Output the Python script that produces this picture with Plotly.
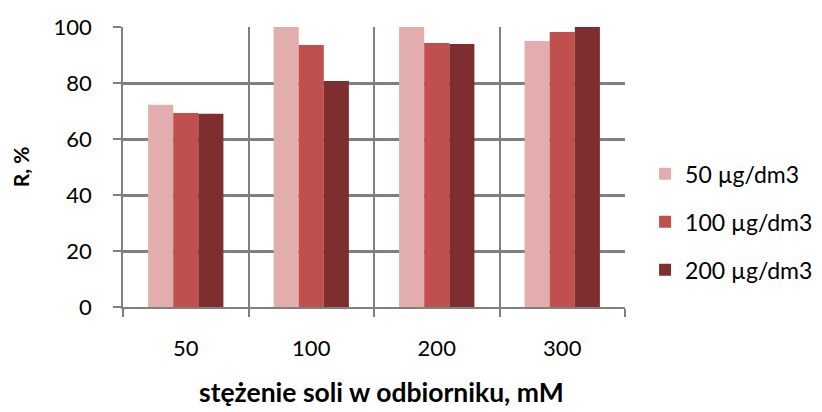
import plotly.graph_objects as go

categories = ["50", "100", "200", "300"]
series_names = ["50 µg/dm3", "100 µg/dm3", "200 µg/dm3"]
values_50 = [72.2, 100.0, 100.0, 95.0]
values_100 = [69.3, 93.6, 94.3, 98.2]
values_200 = [69.0, 80.7, 93.9, 100.0]
colors = ["#E2ADAC", "#C0504D", "#7F2E2F"]
y_ticks = [0, 20, 40, 60, 80, 100]

FONT = "Lato, 'Liberation Sans', Arial, sans-serif"
GRID = "#808080"

fig = go.Figure()
for i, (name, vals) in enumerate(zip(series_names, [values_50, values_100, values_200])):
    fig.add_trace(go.Bar(x=categories, y=vals, name=name, marker_color=colors[i],
                         marker_line_width=0, legendgroup=f"g{i}"))

fig.update_layout(
    width=814, height=404,
    margin=dict(l=115, r=197, t=19, b=105, autoexpand=False),
    paper_bgcolor="white", plot_bgcolor="white",
    barmode="group", bargap=0.40, bargroupgap=0,
    font=dict(family=FONT, size=22, color="#000000"),
    legend=dict(x=1.04, xanchor="left", y=0.304, yanchor="middle", xref="paper",
                font=dict(size=23), traceorder="grouped", tracegroupgap=15,
                itemwidth=30, bgcolor="rgba(0,0,0,0)"),
    showlegend=True,
    annotations=[dict(text="<b>stężenie soli w odbiorniku, mM</b>", xref="paper", yref="paper",
                      x=0.515, y=-0.304, xanchor="center", yanchor="middle", showarrow=False,
                      font=dict(size=26.5))],
)
fig.update_xaxes(
    type="category", tickson="boundaries", showgrid=True, gridcolor=GRID, gridwidth=2,
    ticks="outside", ticklen=8, tickcolor=GRID, tickwidth=2,
    showline=True, linecolor=GRID, linewidth=2, automargin=False,
    ticklabelstandoff=21,
)
fig.update_yaxes(
    range=[0, 100], tickvals=y_ticks, showgrid=True, gridcolor=GRID, gridwidth=2.5,
    ticks="outside", ticklen=8, tickcolor=GRID, tickwidth=2,
    showline=True, linecolor=GRID, linewidth=2, zeroline=False, automargin=False,
    ticktext=[f"{v}   " for v in y_ticks],
    title=dict(text="<b>R, %</b>", font=dict(size=21), standoff=20),
)

fig.write_html("out.html")
